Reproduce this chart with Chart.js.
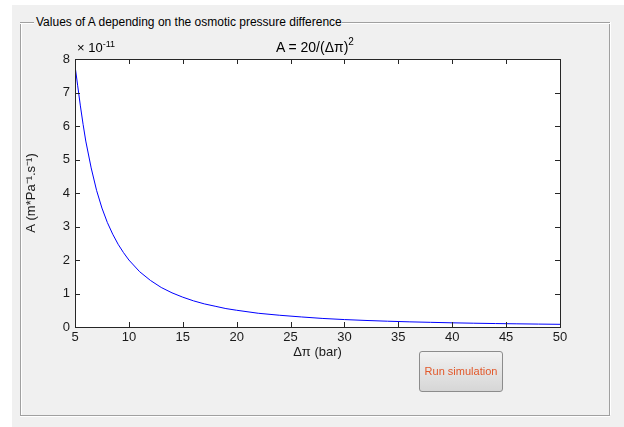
<!DOCTYPE html>
<html><head><meta charset="utf-8">
<script src="https://cdn.jsdelivr.net/npm/chart.js@4.4.1/dist/chart.umd.min.js"></script>
<style>
html,body{margin:0;padding:0;background:#fff;}
#wrap{position:relative;width:624px;height:427px;overflow:hidden;font-family:"Liberation Sans",Arial,sans-serif;}
#bg{position:absolute;left:12px;top:5px;width:612px;height:422px;background:#f0f0f0;}
.fr{position:absolute;}
#fl{left:20px;top:22px;width:1px;height:393px;background:#a0a0a0;box-shadow:1px 0 0 #fff;}
#fr{left:609px;top:22px;width:1px;height:393px;background:#a0a0a0;box-shadow:1px 0 0 #fff;}
#fb{left:20px;top:415px;width:590px;height:1px;background:#a0a0a0;box-shadow:0 1px 0 #fff;}
#ft1{left:20px;top:22px;width:14px;height:1px;background:#a0a0a0;box-shadow:0 1px 0 #fff;}
#ft2{left:342px;top:22px;width:268px;height:1px;background:#a0a0a0;box-shadow:0 1px 0 #fff;}
#gtitle{position:absolute;left:36px;top:15px;font-size:12px;color:#000;white-space:nowrap;}
#ptitle{position:absolute;left:276px;top:37px;font-size:14px;color:#000;white-space:nowrap;}
#ptitle sup{font-size:10px;position:relative;top:-1px;}
#expo{position:absolute;left:77px;top:39px;font-size:13px;color:#000;white-space:nowrap;}
#expo sup{font-size:9px;}
#btn{position:absolute;left:419px;top:351px;width:82px;height:39px;border:1px solid #8c8c8c;border-radius:3px;
 background:linear-gradient(#f2f2f2,#d6d6d6);color:#e2582a;font-size:11px;text-align:center;line-height:39px;box-sizing:content-box;}
canvas{position:absolute;left:0;top:0;}
</style></head><body>
<div id="wrap">
<div id="bg"></div>
<div class="fr" id="fl"></div><div class="fr" id="fr"></div><div class="fr" id="fb"></div>
<div class="fr" id="ft1"></div><div class="fr" id="ft2"></div>
<div id="gtitle">Values of A depending on the osmotic pressure difference</div>
<canvas id="c" width="624" height="427"></canvas>
<div id="ptitle">A = 20/(Δπ)<sup>2</sup></div>
<div id="expo">× 10<sup>-11</sup></div>
<div id="btn">Run simulation</div>
</div>
<script>
const deltaPi = [5,5.25,5.5,5.75,6,6.5,7,7.5,8,8.5,9,9.5,10,11,12,13,14,15,16,17,18,19,20,22,24,26,28,30,32,34,36,38,40,42,44,46,48,50];
const valuesA = [7.8,7.2,6.6,6.05,5.55,4.75,4.08,3.55,3.12,2.77,2.47,2.22,2.0,1.65,1.39,1.18,1.02,0.89,0.78,0.69,0.62,0.55,0.5,0.41,0.35,0.3,0.255,0.222,0.195,0.173,0.154,0.139,0.125,0.113,0.103,0.095,0.087,0.08];
const xTicks = [5,10,15,20,25,30,35,40,45,50];
const yTicks = [0,1,2,3,4,5,6,7,8];

const boxTicks = {
  id:'boxTicks',
  afterDatasetsDraw(chart){
    const {ctx, chartArea:a, scales:{x,y}} = chart;
    ctx.save();
    ctx.strokeStyle='#262626'; ctx.lineWidth=1;
    ctx.beginPath();
    xTicks.forEach(v=>{ if(v===5||v===50) return; const px=Math.round(x.getPixelForValue(v))+0.5;
      ctx.moveTo(px,a.bottom); ctx.lineTo(px,a.bottom-5); ctx.moveTo(px,a.top); ctx.lineTo(px,a.top+5);});
    yTicks.forEach(v=>{ if(v===0||v===8) return; const py=Math.round(y.getPixelForValue(v))+0.5;
      ctx.moveTo(a.left,py); ctx.lineTo(a.left+5,py); ctx.moveTo(a.right,py); ctx.lineTo(a.right-5,py);});
    ctx.stroke();
    ctx.strokeRect(Math.round(a.left)+0.5, Math.round(a.top)+0.5, Math.round(a.right-a.left), Math.round(a.bottom-a.top));
    ctx.restore();
  }
};
const whiteArea = {
  id:'whiteArea',
  beforeDraw(chart){ const {ctx, chartArea:a}=chart; ctx.save(); ctx.fillStyle='#fff'; ctx.fillRect(a.left,a.top,a.right-a.left,a.bottom-a.top); ctx.restore(); }
};

new Chart(document.getElementById('c'), {
  type:'line',
  data:{ datasets:[{ data: deltaPi.map((d,i)=>({x:d,y:valuesA[i]})), borderColor:'#0000ff', borderWidth:1, pointRadius:0, tension:0, fill:false }]},
  options:{
    responsive:false, animation:false, devicePixelRatio:1,
    layout:{ padding:{ left:24, right:64, top:59, bottom:67 } },
    plugins:{ legend:{display:false}, tooltip:{enabled:false} },
    scales:{
      x:{ type:'linear', min:5, max:50,
          afterBuildTicks(s){ s.ticks = xTicks.map(v=>({value:v})); },
          afterFit(s){ s.height = 33; },
          grid:{ display:false, drawTicks:false }, border:{display:false},
          ticks:{ color:'#1a1a1a', font:{family:'"Liberation Sans", Arial', size:13}, padding:3, maxRotation:0, autoSkip:false },
          title:{ display:true, text:'Δπ (bar)', color:'#1a1a1a', font:{family:'"Liberation Sans", Arial', size:13}, padding:0 } },
      y:{ type:'linear', min:0, max:8,
          afterBuildTicks(s){ s.ticks = yTicks.map(v=>({value:v})); },
          afterFit(s){ s.width = 51; },
          grid:{ display:false, drawTicks:false }, border:{display:false},
          ticks:{ color:'#1a1a1a', font:{family:'"Liberation Sans", Arial', size:13}, padding:5, autoSkip:false },
          title:{ display:true, text:'A (m*Pa⁻¹.s⁻¹)', color:'#1a1a1a', font:{family:'"Liberation Sans", Arial', size:13}, padding:0 } }
    }
  },
  plugins:[whiteArea, boxTicks]
});
</script>
</body></html>
